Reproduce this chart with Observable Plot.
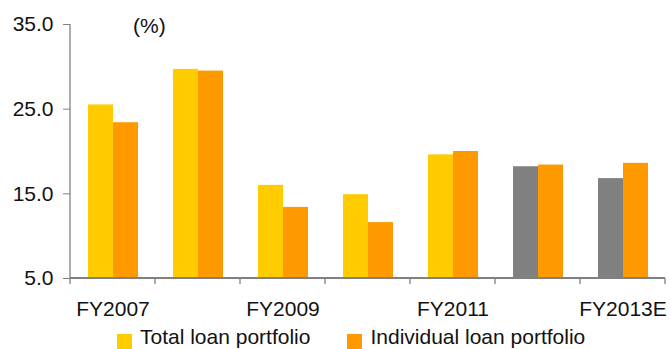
<!DOCTYPE html>
<html>
<head>
<meta charset="utf-8">
<script src="https://cdn.jsdelivr.net/npm/d3@7"></script>
<script src="https://cdn.jsdelivr.net/npm/@observablehq/plot@0.6"></script>
<style>
  html, body { margin: 0; padding: 0; background: #fff; }
  body { position: relative; width: 671px; height: 349px; overflow: hidden;
         font-family: "Liberation Sans", Arial, sans-serif; color: #111; }
  #unit { position: absolute; left: 133px; top: 15px; font-size: 21px; line-height: 21px; }
  #legend { position: absolute; left: 117px; top: 326px; display: flex; font-size: 21px; line-height: 21px; }
  #legend .item { display: flex; align-items: flex-start; margin-right: 37px; white-space: nowrap; }
  #legend .swatch { width: 15px; height: 15px; margin-top: 8px; margin-right: 8px; }
</style>
</head>
<body>
<div id="chart"></div>
<div id="unit">(%)</div>
<div id="legend"></div>
<script>
// Fiscal years and loan-portfolio growth rates (%)
const years = ["FY2007", "FY2008", "FY2009", "FY2010", "FY2011", "FY2012", "FY2013E"];
const totalLoan = [25.5, 29.7, 16.0, 14.9, 19.6, 18.2, 16.8];
const individualLoan = [23.4, 29.5, 13.4, 11.6, 20.0, 18.4, 18.6];
const seriesNames = ["Total loan portfolio", "Individual loan portfolio"];
const projectedYears = ["FY2012", "FY2013E"];
const labeledYears = ["FY2007", "FY2009", "FY2011", "FY2013E"];
const yTicks = [5, 15, 25, 35];

const YELLOW = "#ffcc00", ORANGE = "#ff9900", GRAY = "#808080", AXIS = "#808080";

const rows = years.flatMap((year, i) => [
  {year, series: seriesNames[0], value: totalLoan[i],
   key: projectedYears.includes(year) ? "projected" : seriesNames[0]},
  {year, series: seriesNames[1], value: individualLoan[i], key: seriesNames[1]}
]);

const chart = Plot.plot({
  width: 671,
  height: 349,
  marginLeft: 69,
  marginRight: 6,
  marginTop: 24,
  marginBottom: 71,
  style: {fontFamily: '"Liberation Sans", Arial, sans-serif', fontSize: "21px", color: "#111", background: "transparent"},
  fx: {domain: years, padding: 0},
  x: {domain: seriesNames, paddingInner: 0, paddingOuter: 0.67, axis: null},
  y: {domain: [yTicks[0], yTicks[yTicks.length - 1]]},
  color: {domain: [seriesNames[0], seriesNames[1], "projected"], range: [YELLOW, ORANGE, GRAY]},
  marks: [
    Plot.barY(rows, {fx: "year", x: "series", y1: yTicks[0], y2: "value", fill: "key"}),
    Plot.axisY({ticks: yTicks, tickFormat: d => d.toFixed(1), tickSize: 7, tickPadding: 10,
                stroke: AXIS, fill: "#111", fontSize: 21, label: null}),
    Plot.axisFx({anchor: "bottom", tickSize: 0, tickPadding: 23, fontSize: 21, fill: "#111", label: null,
                 tickFormat: d => labeledYears.includes(d) ? d : ""})
  ]
});
document.getElementById("chart").appendChild(chart);

// Axis lines and category boundary ticks, placed with the plot's own scales
const fx = chart.scale("fx");
const y = chart.scale("y");
const yBottom = y.apply(yTicks[0]);
const yTop = y.apply(yTicks[yTicks.length - 1]);
const left = fx.apply(years[0]);
const right = fx.apply(years[years.length - 1]) + fx.bandwidth;
const edges = years.map(d => fx.apply(d)).concat(right);
const g = d3.select(chart).append("g").attr("stroke", AXIS).attr("fill", "none");
g.append("line").attr("x1", left).attr("x2", left).attr("y1", yTop).attr("y2", yBottom).attr("stroke-width", 1.3);
g.append("line").attr("x1", left).attr("x2", right).attr("y1", yBottom).attr("y2", yBottom).attr("stroke-width", 2);
g.selectAll("line.edge").data(edges).join("line").attr("class", "edge")
  .attr("x1", d => d).attr("x2", d => d).attr("y1", yBottom).attr("y2", yBottom + 6).attr("stroke-width", 1.3);

// Legend
const legend = d3.select("#legend");
seriesNames.forEach(name => {
  const item = legend.append("div").attr("class", "item");
  item.append("div").attr("class", "swatch").style("background", chart.scale("color").apply(name));
  item.append("span").text(name);
});
</script>
</body>
</html>
